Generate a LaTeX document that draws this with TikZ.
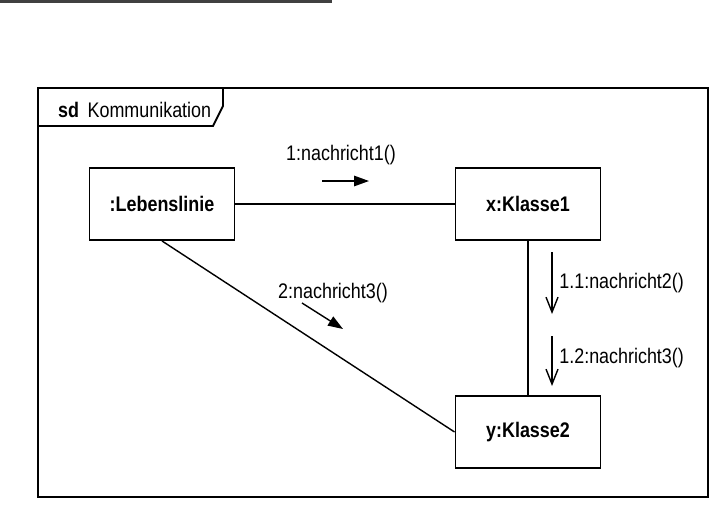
\documentclass[tikz,border=0pt]{standalone}
\usepackage{fontspec}
\setmainfont{Liberation Sans}[FakeStretch=0.85]
\usetikzlibrary{arrows.meta}

\begin{document}
\begin{tikzpicture}[x=0.02cm,y=-0.02cm,font=\fontsize{12}{14}\selectfont]

      \useasboundingbox (0,0) rectangle (715,507);
      \fill[black!75] (0,0) rectangle (332,2.5);

      % frame with tab
      \draw[line width=1.1pt] (38,88) rectangle (708,497);
      \draw[line width=1.1pt] (38,88) -- (223,88) -- (223,106) -- (213,126) -- (38,126);
      \node[anchor=west] (sd) at (52,110) {\textbf{sd}\, Kommunikation};

      \begin{scope}[every node/.style={rectangle,draw,line width=1.1pt,minimum width=2.9cm,minimum height=1.44cm,font=\fontsize{12}{14}\selectfont\bfseries}]
        \node (1) at (162,204) {:Lebenslinie};
        \node (2) at (528,204) {x:Klasse1};
        \node (3) at (528,432) {y:Klasse2};
      \end{scope}

      \begin{scope}[every edge/.style={draw,line width=0.8pt}]
        \path (1)       edge (2);
        \path (1.south) edge (3.west);
        \path (2)       edge (3);
      \end{scope}

      % messages
      \coordinate (m1a) at (322,181);
      \coordinate (m1b) at (369,181);
      \coordinate (m2a) at (302,303);
      \coordinate (m2b) at (343,329);
      \coordinate (m11a) at (552,252);
      \coordinate (m11b) at (552,314);
      \coordinate (m12a) at (552,336);
      \coordinate (m12b) at (552,386);

      \begin{scope}[line width=0.8pt]
        \draw[-{Triangle[length=0.3cm,width=0.21cm]}] (m1a) -- (m1b);
        \draw[-{Triangle[length=0.3cm,width=0.21cm]}] (m2a) -- (m2b);
        \draw[-{Straight Barb[length=0.3cm,width=0.24cm]}] (m11a) -- (m11b);
        \draw[-{Straight Barb[length=0.3cm,width=0.24cm]}] (m12a) -- (m12b);
      \end{scope}

      \node (l1)  at (341,155) {1:nachricht1()};
      \node (l2)  at (333,293) {2:nachricht3()};
      \node[anchor=west,inner sep=0pt] (l11) at (559,283) {1.1:nachricht2()};
      \node[anchor=west,inner sep=0pt] (l12) at (559,358) {1.2:nachricht3()};

    \end{tikzpicture}
\end{document}
